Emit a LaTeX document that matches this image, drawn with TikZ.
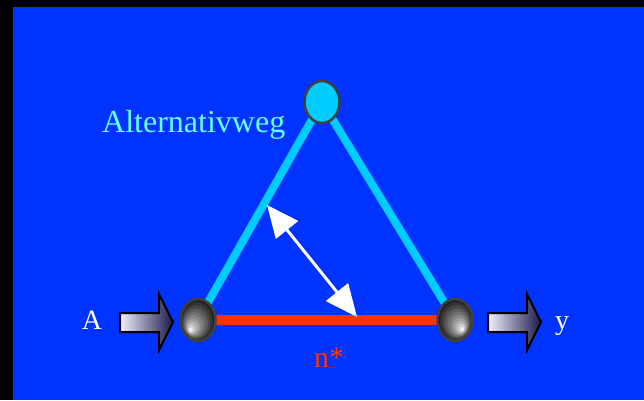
\documentclass[tikz,border=0pt]{standalone}
\usepackage{fontspec}
\setmainfont{Liberation Serif}
\usetikzlibrary{arrows.meta,shapes.geometric,calc}
\definecolor{bgblue}{HTML}{0033FF}
\definecolor{cyanline}{HTML}{00CCFF}
\definecolor{lighttext}{HTML}{66FFFF}
\definecolor{redline}{HTML}{FF3300}
\definecolor{rimgray}{HTML}{404040}
\definecolor{navy}{HTML}{1A1A4A}
\definecolor{pale}{HTML}{F0F0FF}
\tikzset{
  x=1pt, y=-1pt,
  ball/.style={ellipse, draw=rimgray, line width=2.5pt, minimum width=35pt, minimum height=42pt, inner sep=0pt},
  topball/.style={ball, fill=cyanline},
  blockarrow/.style={draw=black, line width=2pt, left color=pale, right color=navy, line join=miter},
  lbl/.style={inner sep=0pt, anchor=base},
}
\newcommand{\shadedball}[2]{% #1 centre coordinate, #2 highlight coordinate
  \begin{scope}
    \clip (#1) ellipse [x radius=17.5, y radius=21];
    \foreach \f/\c in {1.0/88,0.9/80,0.8/72,0.7/64,0.6/56,0.5/48,0.4/39,0.3/29,0.2/18,0.1/6}{
      \fill[black!\c] ($(#2)!\f!(#1)$) ellipse [x radius={\f*17.5+0.01}, y radius={\f*21+0.01}];
    }
  \end{scope}}
\begin{document}
\begin{tikzpicture}
\fill[black] (0,0) rectangle (644,400);
\fill[bgblue] (13,7) rectangle (644,400);
\useasboundingbox (0,0) rectangle (644,400);

\coordinate (tc) at (322,102);
\coordinate (lc) at (198,320);
\coordinate (rc) at (455,320);
\coordinate (lh) at (190,331);
\coordinate (rh) at (463,330);

\draw[redline, line width=10pt] (lc) -- (rc);
\draw[cyanline, line width=8pt] (tc) -- (lc);
\draw[cyanline, line width=8pt] (tc) -- (rc);

\node[topball] (top) at (tc) {};
\shadedball{lc}{lh}
\shadedball{rc}{rh}
\node[ball] (left) at (lc) {};
\node[ball] (right) at (rc) {};

% block arrows
\shade[blockarrow] (120,313) -- (159,313) -- (159,294) -- (173,322) -- (159,350) -- (159,332) -- (120,332) -- cycle;
\shade[blockarrow] (488,313) -- (527,313) -- (527,294) -- (541,322) -- (527,350) -- (527,332) -- (488,332) -- cycle;

% double arrow
\coordinate (da) at (267,205);
\coordinate (db) at (357,317);
\draw[white, line width=3pt, {Triangle[length=32pt,width=28pt]}-{Triangle[length=32pt,width=28pt]}] (da) -- (db);

\node[lbl, text=white, font=\fontsize{28}{28}\selectfont] (A) at (92,329) {A};
\node[lbl, text=white, font=\fontsize{28}{28}\selectfont] (y) at (562,329) {y};
\node[lbl, anchor=base west, text=lighttext, font=\fontsize{32}{32}\selectfont] (alt) at (102,132) {Alternativweg};
\node[lbl, anchor=base west, text=redline, font=\fontsize{30}{30}\selectfont] (n) at (314,367) {n*};
\end{tikzpicture}
\end{document}
